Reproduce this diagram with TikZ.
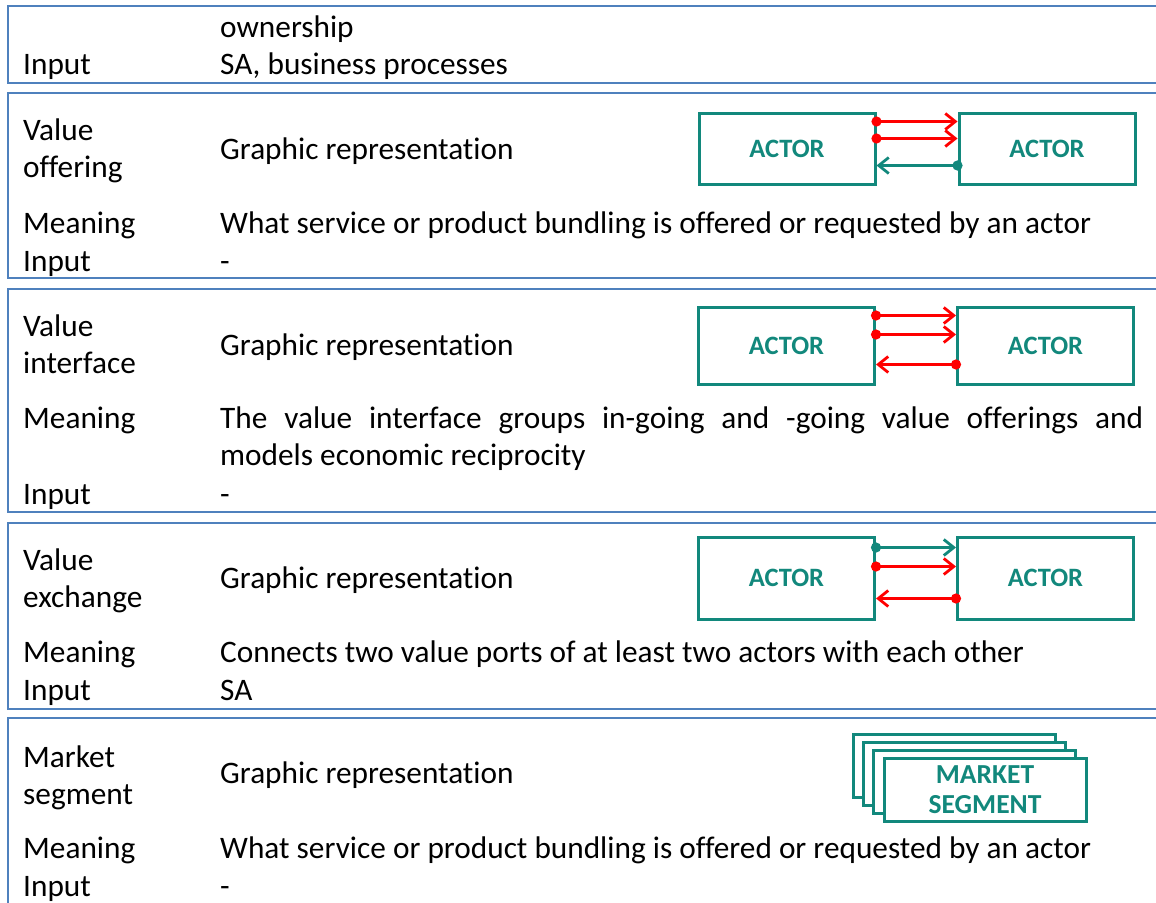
\documentclass[tikz,border=0pt]{standalone}
\usepackage{fontspec}
\setmainfont[Ligatures={NoCommon}]{Carlito}
\usetikzlibrary{arrows.meta,positioning}
\definecolor{rowblue}{HTML}{4F81BD}
\definecolor{vteal}{HTML}{12887C}
\definecolor{vred}{HTML}{FF0000}

\begin{document}
\begin{tikzpicture}[x=1pt, y=-1pt,
  row/.style={draw=rowblue, line width=1.3pt},
  lbl/.style={anchor=base west, inner sep=0pt, align=left,
              font=\fontsize{31.3}{37}\selectfont},
  actor/.style={draw=vteal, line width=3pt, fill=white, text=vteal,
                minimum width=176pt, minimum height=#1, inner sep=0pt,
                font=\fontsize{26.5}{30}\selectfont\bfseries},
  segbox/.style={draw=vteal, line width=3pt, fill=white, text=vteal,
                 minimum width=202pt, minimum height=63pt, inner sep=0pt,
                 align=center, font=\fontsize{27.5}{30}\selectfont\bfseries},
  flow/.style={draw=#1, line width=2.8pt, shorten <=-5pt,
               {Circle[length=10pt, color=#1]}-{Straight Barb[length=10pt, width=16pt]}},
]
  \useasboundingbox (0,0) rectangle (1156,902);

  % row frames, open to the right
  \draw[row] (1170,6) -- (8,6) -- (8,83) -- (1170,83);
  \draw[row] (1170,93) -- (8,93) -- (8,278) -- (1170,278);
  \draw[row] (1170,289) -- (8,289) -- (8,512) -- (1170,512);
  \draw[row] (1170,523) -- (8,523) -- (8,709) -- (1170,709);
  \draw[row] (1170,718) -- (8,718) -- (8,920);

  % ownership row
  \node[lbl] (own) at (220,37) {ownership};
  \node[lbl] (in1) at (23,74) {Input};
  \node[lbl] (in1t) at (220,74) {SA, business processes};

  % value offering
  \node[lbl] (vo) at (23,177) {Value\\offering};
  \node[lbl] (vog) at (220,159) {Graphic representation};
  \node[lbl] (vom) at (23,233) {Meaning};
  \node[lbl] (vomt) at (220,233) {What service or product bundling is offered or requested by an actor};
  \node[lbl] (voi) at (23,271) {Input};
  \node[lbl] (voit) at (220,271) {-};
  \node[actor=71pt] (a1) at (787,148.5) {ACTOR};
  \node[actor=71pt] (b1) at (1047,148.5) {ACTOR};
  \draw[flow=vred] ([yshift=-10pt]a1.north east) -- ([yshift=-10pt]b1.north west);
  \draw[flow=vred] ([yshift=-27pt]a1.north east) -- ([yshift=-27pt]b1.north west);
  \draw[flow=vteal] ([yshift=-54pt]b1.north west) -- ([yshift=-54pt]a1.north east);

  % value interface
  \node[lbl] (vi) at (23,373) {Value\\interface};
  \node[lbl] (vig) at (220,355) {Graphic representation};
  \node[lbl] (vim) at (23,428) {Meaning};
  \node[lbl, text width=923pt, align=justify, anchor=north west] (vimt) at (220,407)
    {The value interface groups in-going and -going value offerings and\linebreak models economic reciprocity};
  \node[lbl] (vii) at (23,504) {Input};
  \node[lbl] (viit) at (220,504) {-};
  \node[actor=77pt] (a2) at (786.5,345.5) {ACTOR};
  \node[actor=77pt] (b2) at (1045.5,345.5) {ACTOR};
  \draw[flow=vred] ([yshift=-10pt]a2.north east) -- ([yshift=-10pt]b2.north west);
  \draw[flow=vred] ([yshift=-29pt]a2.north east) -- ([yshift=-29pt]b2.north west);
  \draw[flow=vred] ([yshift=-59pt]b2.north west) -- ([yshift=-59pt]a2.north east);

  % value exchange
  \node[lbl] (ve) at (23,607) {Value\\exchange};
  \node[lbl] (veg) at (220,588) {Graphic representation};
  \node[lbl] (vem) at (23,662) {Meaning};
  \node[lbl] (vemt) at (220,662) {Connects two value ports of at least two actors with each other};
  \node[lbl] (vei) at (23,700) {Input};
  \node[lbl] (veit) at (220,700) {SA};
  \node[actor=82pt] (a3) at (786.5,578) {ACTOR};
  \node[actor=82pt] (b3) at (1045.5,578) {ACTOR};
  \draw[flow=vteal] ([yshift=-12pt]a3.north east) -- ([yshift=-12pt]b3.north west);
  \draw[flow=vred] ([yshift=-31pt]a3.north east) -- ([yshift=-31pt]b3.north west);
  \draw[flow=vred] ([yshift=-63pt]b3.north west) -- ([yshift=-63pt]a3.north east);

  % market segment
  \node[lbl] (ms) at (23,804) {Market\\segment};
  \node[lbl] (msg) at (220,783) {Graphic representation};
  \node[lbl] (msm) at (23,858) {Meaning};
  \node[lbl] (msmt) at (220,858) {What service or product bundling is offered or requested by an actor};
  \node[lbl] (msi) at (23,896) {Input};
  \node[lbl] (msit) at (220,896) {-};
  \node[segbox] (s1) at (954,765.5) {};
  \node[segbox] (s2) at (964,773.5) {};
  \node[segbox] (s3) at (974,781.5) {};
  \node[segbox] (s4) at (985,790) {MARKET\\SEGMENT};
\end{tikzpicture}
\end{document}
